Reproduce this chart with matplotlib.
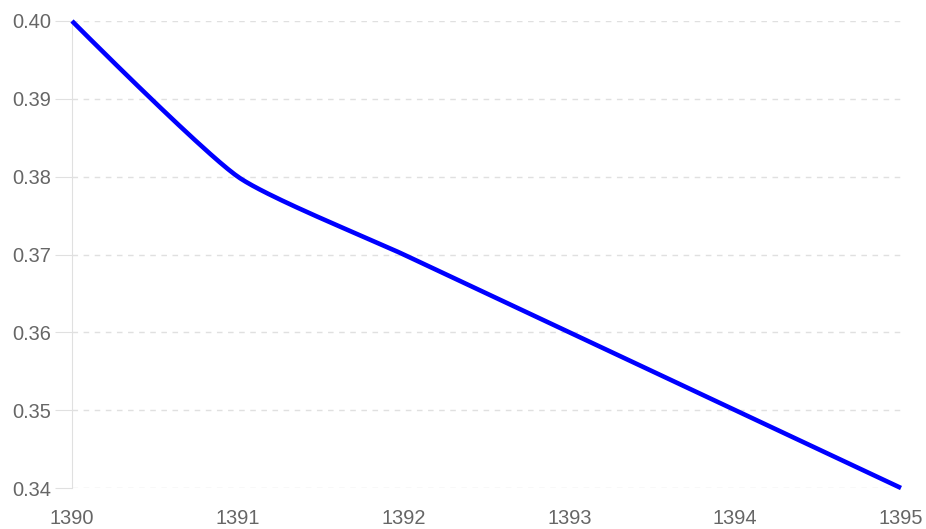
import numpy as np
import matplotlib
matplotlib.use("Agg")
import matplotlib.pyplot as plt

years = [1390, 1391, 1392, 1393, 1394, 1395]
values = [0.40, 0.38, 0.37, 0.36, 0.35, 0.34]
yticks = [0.34, 0.35, 0.36, 0.37, 0.38, 0.39, 0.40]

W, H = 926, 529
L, R, T, B = 72, 901, 21, 488


def spline(px, py, tension=0.2, n=40):
    # bezier smoothing done in pixel space, Chart.js style
    p = np.column_stack([px, py]).astype(float)
    k = len(p)
    c1 = p.copy()
    c2 = p.copy()
    for i in range(1, k - 1):
        d01 = np.hypot(*(p[i] - p[i - 1]))
        d12 = np.hypot(*(p[i + 1] - p[i]))
        s01 = d01 / (d01 + d12)
        s12 = d12 / (d01 + d12)
        c1[i] = p[i] - tension * s01 * (p[i + 1] - p[i - 1])
        c2[i] = p[i] + tension * s12 * (p[i + 1] - p[i - 1])
    out = []
    t = np.linspace(0, 1, n)[:, None]
    for i in range(k - 1):
        a, b, c, d = p[i], c2[i], c1[i + 1], p[i + 1]
        out.append((1 - t)**3 * a + 3 * (1 - t)**2 * t * b + 3 * (1 - t) * t**2 * c + t**3 * d)
    return np.vstack(out)


plt.rcParams['font.family'] = ['Liberation Sans', 'DejaVu Sans']
fig = plt.figure(figsize=(W / 100, H / 100), dpi=100)
ax = fig.add_axes([L / W, 1 - B / H, (R - L) / W, (B - T) / H])
ax.set_xlim(1390, 1395)
ax.set_ylim(0.34, 0.40)

# to pixels, smooth, back to data
pxs = [(x - 1390) / 5 * (R - L) for x in years]
pys = [(v - 0.34) / 0.06 * (B - T) for v in values]
cur = spline(pxs, pys)
sx = 1390 + cur[:, 0] / (R - L) * 5
sy = 0.34 + cur[:, 1] / (B - T) * 0.06
ax.plot(sx, sy, color='#0000ff', linewidth=3.3, clip_on=False, solid_capstyle='butt', zorder=3)

ax.set_xticks(years)
ax.set_xticklabels([str(y) for y in years])
ax.set_yticks(yticks)
ax.set_yticklabels(['%.2f' % v for v in yticks])
ax.grid(axis='y', color='#e0e0e0', linestyle=(0, (4, 4)), linewidth=1)
ax.set_axisbelow(True)
for s in ['top', 'right', 'bottom']:
    ax.spines[s].set_visible(False)
ax.spines['left'].set_color('#e0e0e0')
ax.tick_params(axis='y', length=12, color='#e0e0e0', labelcolor='#666666', labelsize=14.4, pad=3)
ax.tick_params(axis='x', length=0, labelcolor='#666666', labelsize=14.4, pad=15)

fig.savefig('out.png', dpi=100)
